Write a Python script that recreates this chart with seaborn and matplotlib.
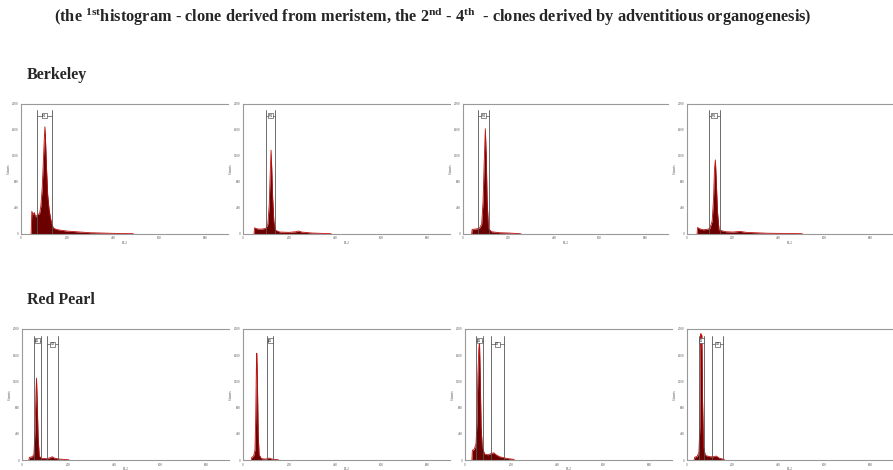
import matplotlib
matplotlib.use("Agg")
import matplotlib.pyplot as plt
import seaborn as sns
import pandas as pd

sns.set_style("white")
plt.rcParams["font.family"] = ["Liberation Serif", "DejaVu Serif"]

# ---------------- data ----------------
title_text = ("(the $^{\\mathregular{1st}}$histogram - clone derived from meristem, the 2$^{\\mathregular{nd}}$ - 4$^{\\mathregular{th}}$"
              "  - clones derived by adventitious organogenesis)")
row_labels = ["Berkeley", "Red Pearl"]
x_ticks = [0, 200, 400, 600, 800]
y_ticks = [0, 400, 800, 1200, 1600, 2000]
x_label = "FL2"
y_label = "Counts"

# Berkeley
b1_ch = [44, 47, 52, 58, 63, 68, 74, 80, 86, 92, 97, 101, 104, 107, 111, 116, 122, 128, 134, 141, 155, 170, 200, 240, 300, 400, 486, 490]
b1_n = [0, 350, 300, 330, 260, 280, 310, 300, 420, 700, 1100, 1450, 1650, 1400, 1000, 600, 380, 250, 150, 90, 70, 60, 45, 35, 20, 10, 5, 0]
b2_ch = [48, 50, 60, 75, 90, 100, 108, 114, 118, 122, 125, 129, 134, 140, 160, 200, 230, 242, 255, 300, 380, 385]
b2_n = [0, 95, 80, 75, 80, 90, 150, 450, 900, 1290, 1000, 550, 200, 60, 30, 25, 35, 45, 30, 15, 5, 0]
b3_ch = [38, 40, 50, 62, 72, 82, 88, 93, 98, 102, 106, 112, 125, 160, 200, 250, 255]
b3_n = [0, 70, 75, 80, 90, 150, 500, 1100, 1620, 1200, 500, 80, 35, 20, 15, 5, 0]
b4_ch = [44, 46, 55, 70, 85, 100, 110, 116, 120, 124, 128, 133, 140, 170, 200, 232, 260, 350, 500, 505]
b4_n = [0, 100, 80, 65, 70, 85, 200, 550, 1000, 1140, 800, 350, 60, 35, 30, 40, 25, 12, 5, 0]

# Red Pearl
r1_ch = [30, 32, 45, 52, 57, 61, 63, 66, 70, 75, 85, 110, 125, 131, 140, 160, 200, 205]
r1_n = [0, 40, 50, 90, 500, 1050, 1250, 900, 350, 60, 25, 20, 40, 50, 30, 15, 5, 0]
r2_ch = [36, 38, 46, 52, 55, 58, 60, 63, 66, 70, 80, 100, 113, 125, 150, 155]
r2_n = [0, 40, 60, 150, 600, 1400, 1630, 1100, 400, 80, 20, 15, 30, 15, 5, 0]
r3_ch = [30, 32, 40, 48, 52, 56, 60, 63, 66, 70, 75, 85, 100, 115, 125, 135, 150, 180, 211, 215]
r3_n = [0, 150, 160, 250, 600, 1300, 1700, 1800, 1300, 500, 200, 90, 80, 100, 110, 80, 50, 25, 10, 0]
r4_ch = [31, 33, 45, 52, 56, 59, 61, 63, 65, 68, 72, 80, 100, 115, 128, 140, 160, 165]
r4_n = [0, 40, 60, 120, 500, 1800, 1930, 1700, 1900, 900, 200, 70, 50, 50, 60, 30, 10, 0]

# gates (start, end, label)
b1_gates = [(69, 134, "M1")]
b2_gates = [(101, 140, "M1")]
b3_gates = [(68, 113, "M1")]
b4_gates = [(94, 142, "M1")]
r1_gates = [(51, 82, "G1"), (110, 155, "G2")]
r2_gates = [(104, 132, "G1")]
r3_gates = [(46, 79, "G1"), (111, 171, "G2")]
r4_gates = [(51, 74, "G1"), (109, 157, "G2")]

panels = [
    (b1_ch, b1_n, b1_gates), (b2_ch, b2_n, b2_gates), (b3_ch, b3_n, b3_gates), (b4_ch, b4_n, b4_gates),
    (r1_ch, r1_n, r1_gates), (r2_ch, r2_n, r2_gates), (r3_ch, r3_n, r3_gates), (r4_ch, r4_n, r4_gates),
]

# ---------------- layout ----------------
W, H = 893, 470
fig = plt.figure(figsize=(W / 100, H / 100), dpi=100)

# pixel boxes: (left, right, top, bottom)
boxes = [
    (21, 228, 104, 234), (243, 450, 104, 234), (463, 668, 104, 234), (687, 893, 104, 234),
    (22, 229, 329, 460), (243, 450, 329, 460), (465, 672, 329, 460), (687, 893, 329, 460),
]

fill_col = "#6a0000"
edge_col = "#c01010"
gate_col = "#555555"

for (ch, n, gates), (l, r, t, b) in zip(panels, boxes):
    ax = fig.add_axes([l / W, 1 - b / H, (r - l) / W, (b - t) / H])
    df = pd.DataFrame({"ch": ch, "n": n})
    ax.fill_between(df["ch"], df["n"], color=fill_col, lw=0, zorder=2)
    sns.lineplot(data=df, x="ch", y="n", ax=ax, color=edge_col, lw=0.6,
                 estimator=None, sort=False, zorder=3)
    ax.set_xlim(0, 900)
    ax.set_ylim(0, 2000)
    ax.set_xticks(x_ticks)
    ax.set_yticks(y_ticks)
    ax.tick_params(labelsize=2.3, length=1.2, width=0.4, pad=0.6, colors="#555555")
    ax.set_xlabel(x_label, fontsize=2.6, labelpad=0.3, color="#555555")
    ax.set_ylabel(y_label, fontsize=2.8, labelpad=1, color="#555555")
    for s in ["left", "bottom", "top"]:
        ax.spines[s].set_color("#999999")
        ax.spines[s].set_linewidth(0.8)
    ax.spines["right"].set_visible(False)
    for i, (g0, g1, lab) in enumerate(gates):
        ybr = 1820 - i * 50
        ax.plot([g0, g0], [0, 1900], color=gate_col, lw=0.6, zorder=4)
        ax.plot([g1, g1], [0, 1900], color=gate_col, lw=0.6, zorder=4)
        ax.plot([g0, g1], [ybr, ybr], color=gate_col, lw=0.5, zorder=4)
        ax.text((g0 + g1) / 2, ybr, lab, fontsize=2.2, ha="center", va="center",
                zorder=5, family="DejaVu Sans",
                bbox=dict(boxstyle="square,pad=0.15", fc="white", ec="#333333", lw=0.4))

fig.text(0.485, 1 - 17 / H, title_text, ha="center", va="center",
         fontsize=11.8, fontweight="bold")
fig.text(27 / W, 1 - 75 / H, row_labels[0], ha="left", va="center",
         fontsize=11.5, fontweight="bold")
fig.text(27 / W, 1 - 300 / H, row_labels[1], ha="left", va="center",
         fontsize=11.5, fontweight="bold")

fig.savefig("out.png", dpi=100)
